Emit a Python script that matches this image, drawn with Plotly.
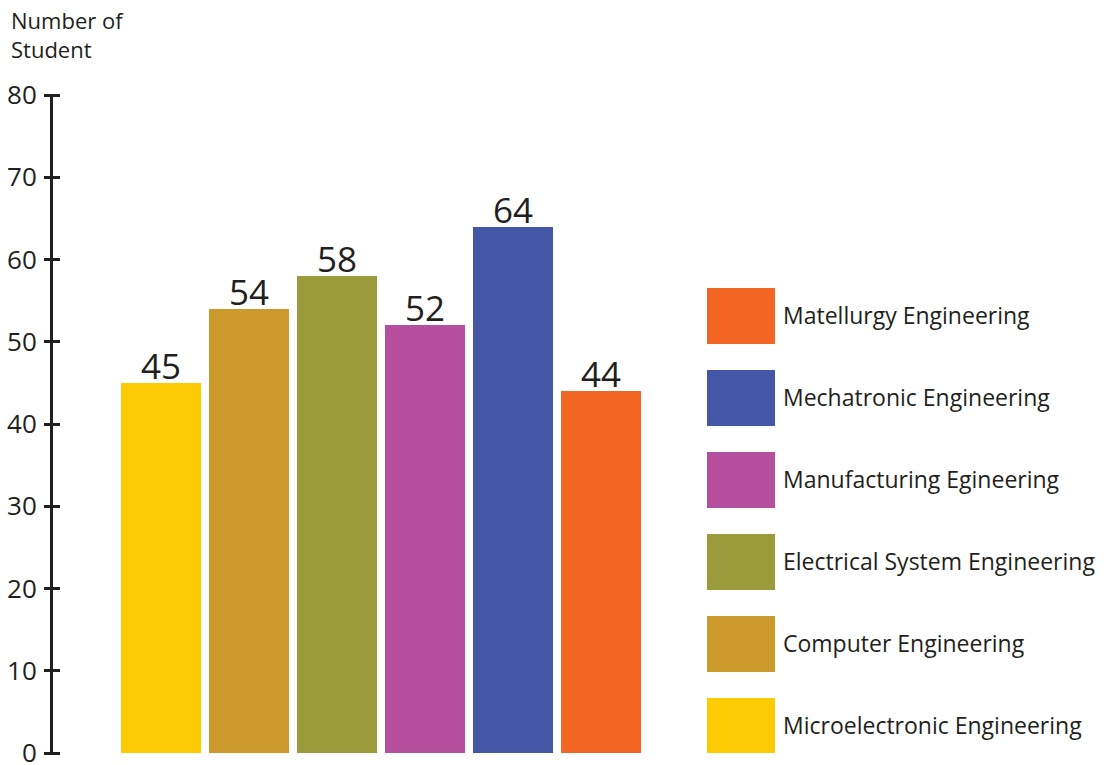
import plotly.graph_objects as go

categories = ["Microelectronic Engineering", "Computer Engineering", "Electrical System Engineering",
              "Manufacturing Egineering", "Mechatronic Engineering", "Matellurgy Engineering"]
values = [45, 54, 58, 52, 64, 44]
colors = ["#FDCB04", "#CC9A2C", "#9A9B3A", "#B74F9F", "#4457A7", "#F26522"]
y_ticks = [0, 10, 20, 30, 40, 50, 60, 70, 80]
legend_len = [1, 1, 1, 1, 1, 1]

W, H = 1110, 765
ML, MT = 51, 95
MB = H - 753
PW = W - ML
PH = H - MT - MB

def px_x(p):
    return (p - ML) / PW

def px_y(p):
    return 1 - (p - MT) / PH

FONT = "Open Sans"
DARK = "#231f20"

fig = go.Figure()
fig.add_trace(go.Bar(
    x=categories, y=values, marker=dict(color=colors, line=dict(width=0)),
    cliponaxis=False, xaxis="x", yaxis="y", showlegend=False, width=80/88, hoverinfo="skip",
))
fig.add_trace(go.Bar(
    y=categories, x=legend_len, orientation="h",
    marker=dict(color=colors, line=dict(width=0)),
    xaxis="x2", yaxis="y2", showlegend=False, width=56/82, hoverinfo="skip",
))
# invisible trace that activates the overlay axis drawing the vertical axis line
fig.add_trace(go.Scatter(x=categories, y=values, mode="markers", marker=dict(opacity=0),
                         xaxis="x", yaxis="y3", showlegend=False, hoverinfo="skip"))

value_labels = [dict(x=c, y=v, xref="x", yref="y", text=str(v), showarrow=False,
                     yanchor="bottom", yshift=-8,
                     font=dict(size=35, color=DARK, family=FONT))
                for c, v in zip(categories, values)]

fig.update_layout(
    width=W, height=H,
    margin=dict(l=ML, r=0, t=MT, b=MB, autoexpand=False),
    paper_bgcolor="white", plot_bgcolor="white",
    font=dict(family=FONT, color=DARK),
    xaxis=dict(domain=[px_x(61), px_x(645)], range=[-100 / 88, 5.5], visible=False,
               automargin=False),
    yaxis=dict(range=[0, 80], tickvals=y_ticks, ticks="outside", ticklen=16, tickwidth=2.5,
               tickcolor=DARK, showline=False, showgrid=False,
               zeroline=False, tickfont=dict(size=26, color=DARK, family=FONT),
               ticklabelstandoff=2, ticklabeloverflow="allow", automargin=False),
    yaxis3=dict(range=[0, 80], overlaying="y", anchor="free", position=0, side="left",
                showline=True, linewidth=3, linecolor=DARK, ticks="", showticklabels=False,
                showgrid=False, zeroline=False, automargin=False),
    xaxis2=dict(domain=[px_x(707), px_x(775)], range=[0, 1], visible=False, automargin=False),
    yaxis2=dict(anchor="x2", side="right", range=[-0.329, 7.695], showgrid=False,
                zeroline=False, showline=False, ticks="", automargin=False,
                tickfont=dict(size=23, color=DARK, family=FONT), ticklabelstandoff=7),
    annotations=[dict(text="Number of<br>Student", xref="paper", yref="paper",
                      x=px_x(9), y=px_y(3), xanchor="left", yanchor="top", align="left",
                      showarrow=False, font=dict(size=22, color=DARK, family=FONT))]
                + value_labels,
    bargap=0,
)

fig.write_html("out.html", config={"displayModeBar": False},
               post_script="document.body.style.margin='0';document.body.style.overflow='hidden';")
